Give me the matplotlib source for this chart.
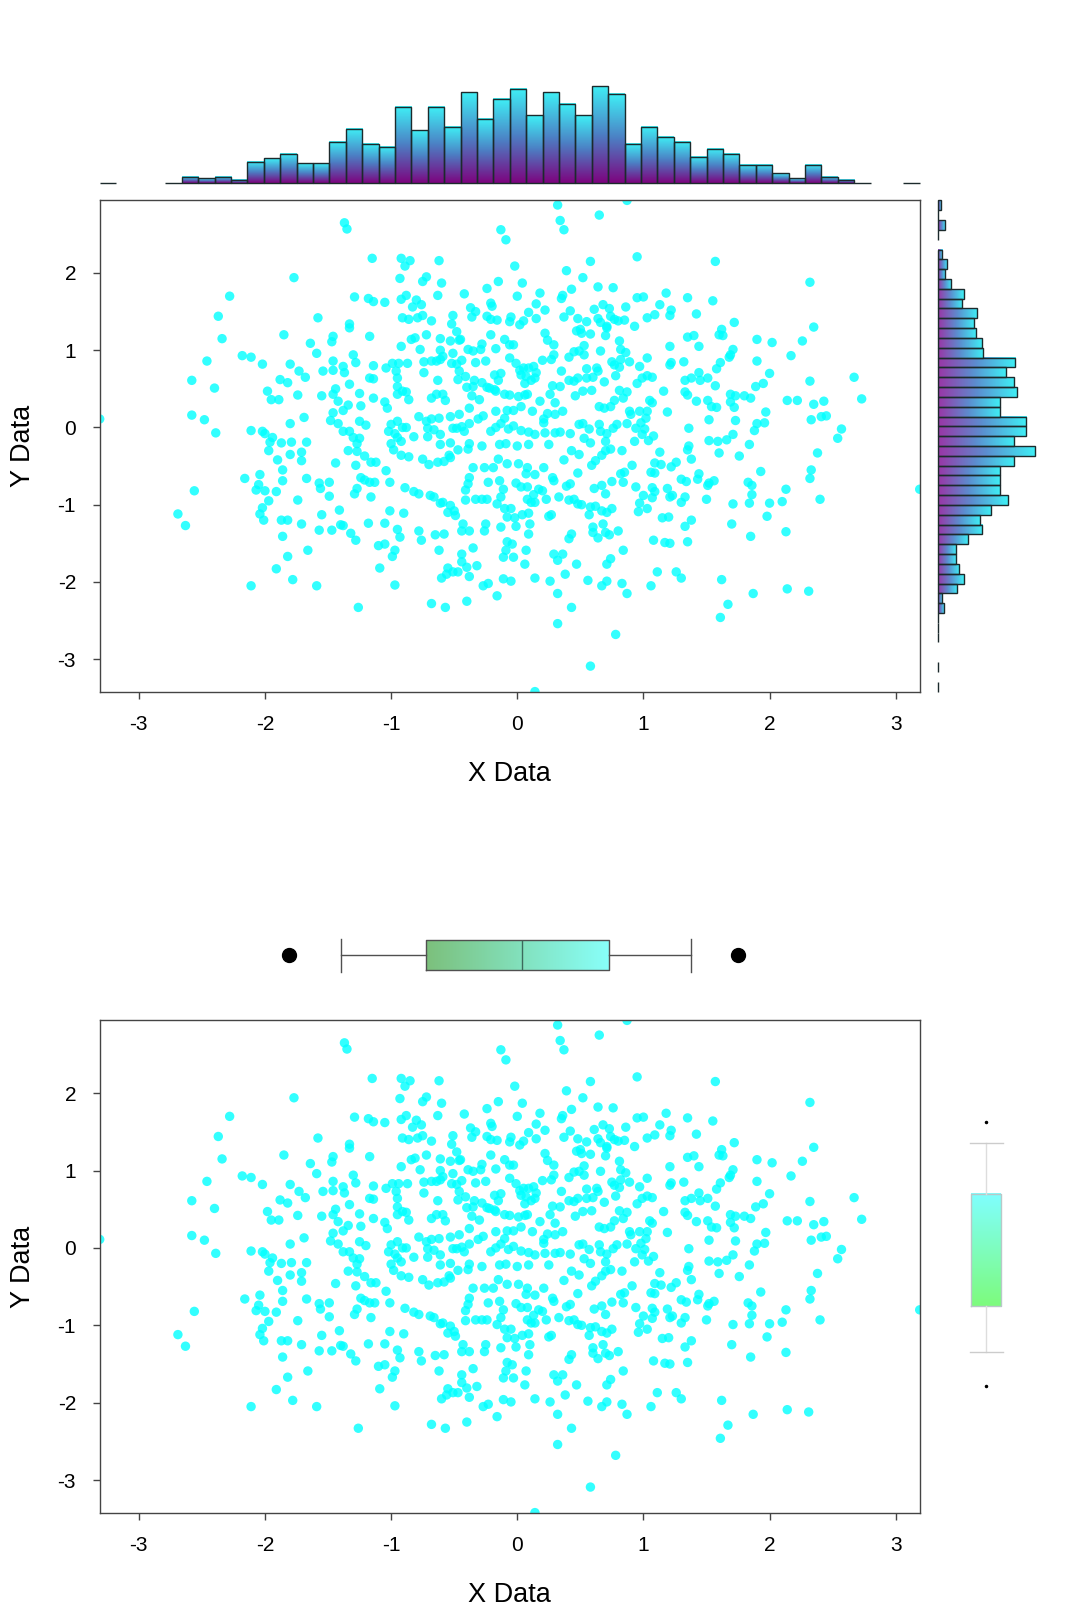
import matplotlib
matplotlib.use("Agg")
import matplotlib.pyplot as plt
import numpy as np
from matplotlib.colors import LinearSegmentedColormap

plt.rcParams["font.family"] = ["Liberation Sans", "DejaVu Sans"]
plt.rcParams["axes.unicode_minus"] = False

FIG_W, FIG_H = 1080, 1612

# scatter points, (x, y)
points = [
    (-1.37, 2.65), (-1.35, 2.57), (-1.15, 2.19), (-1.77, 1.94), (-2.28, 1.70), (-1.29, 1.69), (-1.18, 1.67),
    (-1.14, 1.63), (-2.37, 1.44), (-1.58, 1.42), (-1.33, 1.34), (-1.33, 1.29), (-2.34, 1.15), (-1.85, 1.20),
    (-1.17, 1.18), (-1.46, 1.18), (-1.47, 1.11), (-1.64, 1.09), (-1.59, 0.96), (-2.18, 0.93), (-2.11, 0.91),
    (-1.30, 0.94), (-2.46, 0.86), (-2.02, 0.82), (-1.80, 0.82), (-1.46, 0.86), (-1.38, 0.79), (-1.28, 0.84),
    (-1.14, 0.80), (-1.73, 0.73), (-1.54, 0.73), (-1.37, 0.71), (-1.46, 0.74), (-1.68, 0.65), (-1.88, 0.62),
    (-1.82, 0.58), (-2.58, 0.61), (-1.17, 0.64), (-1.14, 0.63), (-1.33, 0.56), (-2.40, 0.51), (-1.98, 0.47),
    (-1.44, 0.50), (-1.46, 0.43), (-1.25, 0.44), (-1.74, 0.42), (-1.95, 0.36), (-1.89, 0.36), (-1.55, 0.41),
    (-1.42, 0.34), (-1.34, 0.29), (-1.14, 0.38), (-1.24, 0.28), (-1.38, 0.22), (-1.46, 0.19), (-1.69, 0.13),
    (-2.58, 0.16), (-2.48, 0.10), (-1.48, 0.09), (-1.42, 0.05), (-1.80, 0.05), (-1.25, 0.08), (-1.20, 0.03),
    (-3.31, 0.11), (-2.39, -0.07), (-2.11, -0.04), (-2.02, -0.05), (-2.00, -0.08), (-1.38, -0.05), (-1.33, -0.05),
    (-1.30, -0.13), (-1.94, -0.13), (-1.25, -0.14), (-1.27, -0.21), (-1.87, -0.20), (-1.79, -0.19), (-1.67, -0.19),
    (-1.96, -0.19),
    (0.32, 2.88), (0.87, 2.94), (0.65, 2.75), (0.34, 2.68), (0.37, 2.56), (-0.13, 2.56), (-0.09, 2.43),
    (-0.92, 2.19), (-0.89, 2.09), (-0.85, 2.16), (-0.62, 2.16), (-0.02, 2.09), (0.95, 2.21), (0.58, 2.15),
    (0.39, 2.03), (0.52, 1.94), (-0.93, 1.93), (-0.75, 1.89), (-0.72, 1.95), (-0.60, 1.87), (-0.15, 1.89),
    (0.04, 1.87), (0.64, 1.82), (0.76, 1.81), (0.43, 1.79), (0.36, 1.71), (0.35, 1.67), (-0.24, 1.80),
    (-0.42, 1.73), (0.00, 1.70), (0.18, 1.74), (-1.05, 1.62), (-0.92, 1.66), (-0.88, 1.71), (-0.80, 1.65),
    (-0.76, 1.59), (-0.83, 1.56), (-0.63, 1.71), (-0.37, 1.55), (-0.33, 1.50), (-0.21, 1.61), (-0.20, 1.57),
    (0.15, 1.60), (0.22, 1.52), (0.61, 1.53), (0.68, 1.59), (0.73, 1.54), (0.86, 1.56), (1.00, 1.69),
    (0.95, 1.68), (0.42, 1.51), (0.37, 1.43), (0.48, 1.41), (0.55, 1.37), (0.74, 1.44), (0.77, 1.40),
    (0.80, 1.38), (0.85, 1.39), (0.64, 1.41), (0.66, 1.36), (0.71, 1.31), (0.93, 1.31), (1.03, 1.42),
    (-0.91, 1.42), (-0.86, 1.40), (-0.79, 1.42), (-0.75, 1.45), (-0.68, 1.38), (-0.51, 1.45), (-0.52, 1.34),
    (-0.48, 1.24), (-0.36, 1.43), (-0.24, 1.44), (-0.21, 1.40), (-0.16, 1.39), (-0.05, 1.43), (-0.06, 1.37),
    (0.02, 1.33), (0.05, 1.38), (0.09, 1.49), (0.15, 1.41),
    (-0.72, 1.20), (-0.84, 1.14), (-0.81, 1.16), (-0.92, 1.05), (-0.77, 1.01), (-0.61, 1.15), (-0.53, 1.12),
    (-0.46, 1.13), (-0.45, 1.14), (-0.21, 1.20), (-0.10, 1.14), (-0.06, 1.07), (-0.03, 1.07), (0.22, 1.22),
    (0.24, 1.13), (0.29, 1.07), (0.47, 1.25), (0.50, 1.27), (0.51, 1.22), (0.58, 1.21), (0.70, 1.19),
    (0.81, 1.12), (0.71, 1.29), (-0.17, 1.02), (-0.39, 1.01), (-0.35, 0.99), (-0.28, 1.08), (-0.29, 1.01),
    (-0.61, 1.00), (-0.51, 0.96), (-0.44, 0.87), (-0.61, 0.88), (-0.64, 0.86), (-0.68, 0.86), (-0.59, 0.92),
    (0.45, 0.98), (0.49, 0.99), (0.53, 0.94), (0.41, 0.91), (0.53, 1.06), (0.66, 0.99), (0.82, 1.01),
    (0.86, 0.97), (0.89, 0.85), (0.97, 0.79), (1.03, 0.90), (0.75, 0.85), (0.77, 0.81), (0.82, 0.88),
    (0.81, 0.78), (0.63, 0.77), (0.55, 0.76), (0.29, 0.94), (0.27, 0.88), (0.20, 0.87), (-0.06, 0.90),
    (-0.01, 0.83), (0.02, 0.74), (0.05, 0.77), (0.09, 0.77), (0.13, 0.79), (0.15, 0.71), (0.14, 0.64),
    (0.11, 0.61), (0.07, 0.66), (0.06, 0.57), (0.03, 0.68), (-0.13, 0.70), (-0.18, 0.68), (-0.15, 0.61),
    (-0.22, 0.51), (-0.18, 0.49), (-0.24, 0.52), (-0.28, 0.58), (-0.34, 0.61), (-0.35, 0.53), (-0.41, 0.66),
    (-0.46, 0.73), (-0.48, 0.82), (-0.52, 0.83), (-0.47, 0.62), (-0.40, 0.52), (-0.33, 0.84), (-0.25, 0.86),
    (-1.04, 0.77), (-0.99, 0.83), (-0.94, 0.83), (-0.96, 0.73), (-0.95, 0.64), (-0.87, 0.83), (-0.74, 0.85),
    (-0.74, 0.71), (-0.63, 0.61), (-0.95, 0.53), (-0.95, 0.43), (-0.91, 0.47), (-0.88, 0.46), (-0.86, 0.36),
    (-1.05, 0.33), (-1.03, 0.25), (-0.68, 0.38), (-0.64, 0.43), (-0.59, 0.43), (-0.57, 0.35), (-0.36, 0.41),
    (-0.30, 0.36), (-0.17, 0.47), (-0.10, 0.43), (-0.06, 0.42), (0.01, 0.40), (0.06, 0.42), (0.08, 0.43),
    (0.18, 0.34), (0.26, 0.43), (0.30, 0.32), (0.28, 0.54), (0.34, 0.53), (0.35, 0.73), (0.41, 0.61),
    (0.45, 0.60), (0.48, 0.64), (0.55, 0.64), (0.60, 0.65), (0.64, 0.73), (0.69, 0.59), (0.78, 0.67),
    (0.81, 0.48), (0.87, 0.46), (0.95, 0.57), (0.99, 0.64), (1.03, 0.67), (0.84, 0.38), (0.77, 0.35),
    (0.74, 0.27), (0.69, 0.25), (0.65, 0.27), (0.59, 0.48), (0.52, 0.47), (0.46, 0.41), (0.36, 0.21),
    (0.30, 0.17), (0.24, 0.18), (0.21, 0.11), (0.21, 0.06), (0.12, 0.21), (0.03, 0.27), (-0.03, 0.22),
    (-0.08, 0.22), (-0.10, 0.12), (-0.17, 0.21), (-0.27, 0.15), (-0.38, 0.25), (-0.46, 0.17), (-0.53, 0.14),
    (-0.62, 0.12), (-0.68, 0.11), (-0.78, 0.14), (-0.72, 0.08), (-0.71, -0.01), (-0.66, -0.03), (-0.61, -0.09),
    (-0.71, -0.12), (-0.82, -0.12), (-0.91, 0.00), (-0.88, 0.00), (-0.95, 0.08), (-1.00, 0.04), (-1.02, -0.05),
    (-0.97, -0.08), (-0.95, -0.13), (-1.00, -0.21), (-0.92, -0.18), (-0.51, -0.01), (-0.48, -0.01), (-0.44, 0.01),
    (-0.42, -0.05), (-0.38, 0.05), (-0.31, 0.11), (-0.21, -0.05), (-0.17, 0.00), (-0.13, 0.05), (-0.07, -0.02),
    (-0.03, 0.02), (0.03, -0.04), (0.09, -0.06), (0.14, -0.09), (0.22, -0.07), (0.30, -0.07), (0.34, -0.06),
    (0.42, -0.08), (0.49, 0.04), (0.52, 0.05), (0.57, -0.02), (0.65, 0.04), (0.66, -0.05), (0.71, -0.08),
    (0.76, -0.01), (0.79, 0.04), (0.87, 0.05), (0.90, 0.17), (0.89, 0.21), (0.94, -0.01), (0.98, 0.06),
    (1.01, -0.02), (1.02, 0.12), (0.97, 0.21), (-0.61, -0.22), (-0.53, -0.20), (-0.38, -0.21), (-0.28, -0.24),
    (-0.14, -0.22), (-0.09, -0.21), (0.00, -0.24), (0.09, -0.22), (0.25, -0.22), (0.53, -0.14), (0.58, -0.20),
    (0.70, -0.18), (0.93, -0.18), (0.99, -0.09),
    (1.57, 2.15), (2.32, 1.88), (1.18, 1.74), (1.35, 1.68), (1.55, 1.64), (1.13, 1.59), (1.22, 1.52),
    (1.21, 1.45), (1.09, 1.46), (1.42, 1.47), (1.72, 1.36), (2.35, 1.30), (1.62, 1.27), (1.60, 1.20),
    (1.63, 1.19), (1.35, 1.17), (1.40, 1.19), (1.90, 1.14), (2.02, 1.10), (2.26, 1.12), (1.21, 1.05),
    (1.44, 1.05), (1.32, 0.85), (1.22, 0.84), (1.21, 0.81), (1.61, 0.84), (1.58, 0.76), (1.71, 1.01),
    (1.69, 0.94), (1.68, 0.91), (1.90, 0.86), (2.17, 0.93), (2.00, 0.70), (2.32, 0.60), (2.67, 0.65),
    (2.73, 0.37), (1.07, 0.65), (1.16, 0.47), (1.33, 0.61), (1.38, 0.64), (1.44, 0.71), (1.45, 0.61),
    (1.51, 0.64), (1.33, 0.46), (1.35, 0.42), (1.42, 0.34), (1.51, 0.35), (1.57, 0.54), (1.69, 0.43),
    (1.69, 0.33), (1.73, 0.41), (1.80, 0.41), (1.85, 0.38), (1.72, 0.26), (1.54, 0.27), (1.58, 0.26),
    (1.95, 0.57), (1.89, 0.53), (2.14, 0.35), (2.22, 0.35), (2.43, 0.34), (2.35, 0.30), (2.41, 0.14),
    (2.45, 0.15), (2.33, 0.10), (1.97, 0.20), (1.96, 0.06), (1.90, 0.05), (1.88, -0.04), (1.73, 0.09),
    (1.52, 0.10), (1.36, -0.01), (1.71, -0.09), (1.66, -0.16), (1.59, -0.18), (1.52, -0.17), (2.57, -0.02),
    (2.54, -0.14), (1.19, 0.20), (1.05, 0.35), (1.07, 0.32), (1.03, 0.21), (1.08, -0.11), (1.04, -0.17),
    (1.36, -0.24), (1.84, -0.22),
    (-1.97, -0.30), (-1.80, -0.35), (-1.71, -0.32), (-1.71, -0.43), (-1.90, -0.42), (-1.86, -0.55), (-1.34, -0.30),
    (-1.27, -0.31), (-1.21, -0.37), (-1.28, -0.49), (-1.16, -0.45), (-1.44, -0.46), (-2.16, -0.66), (-2.04, -0.61),
    (-1.67, -0.66), (-1.86, -0.69), (-2.05, -0.74), (-2.07, -0.81), (-2.00, -0.82), (-1.91, -0.83), (-1.57, -0.72),
    (-1.56, -0.79), (-1.49, -0.71), (-1.49, -0.89), (-1.24, -0.65), (-1.21, -0.68), (-1.17, -0.71), (-1.27, -0.79),
    (-1.29, -0.86), (-1.16, -0.90), (-2.56, -0.82), (-1.74, -0.94), (-1.97, -0.95), (-2.02, -1.04), (-2.04, -1.12),
    (-2.01, -1.20), (-1.87, -1.20), (-1.82, -1.20), (-1.71, -1.25), (-1.55, -1.13), (-1.41, -1.07), (-1.40, -1.26),
    (-1.38, -1.27), (-1.57, -1.33), (-1.47, -1.33), (-1.32, -1.37), (-1.28, -1.46), (-1.18, -1.24), (-1.86, -1.41),
    (-2.69, -1.12), (-2.63, -1.27), (-1.66, -1.59), (-1.82, -1.67), (-1.91, -1.83), (-1.78, -1.97), (-2.11, -2.05),
    (-1.59, -2.05), (-1.26, -2.33),
    (-0.98, -0.29), (-1.12, -0.45), (-1.04, -0.56), (-1.01, -0.71), (-1.13, -0.71), (-0.92, -0.36), (-0.86, -0.38),
    (-0.75, -0.41), (-0.70, -0.48), (-0.63, -0.45), (-0.54, -0.36), (-0.47, -0.29), (-0.39, -0.28), (-0.58, -0.44),
    (-0.53, -0.39), (-0.35, -0.52), (-0.26, -0.52), (-0.19, -0.52), (-0.23, -0.71), (-0.38, -0.65), (-0.39, -0.73),
    (-0.41, -0.81), (-0.33, -0.93), (-0.28, -0.93), (-0.24, -0.93), (-0.41, -0.94), (-0.14, -0.69), (-0.11, -0.80),
    (-0.08, -0.47), (-0.15, -0.41), (0.01, -0.47), (0.08, -0.52), (0.14, -0.61), (0.07, -0.60), (-0.01, -0.72),
    (0.03, -0.77), (0.08, -0.77), (0.13, -0.87), (0.17, -0.80), (0.14, -0.97), (0.08, -0.93), (0.11, -0.97),
    (0.21, -0.52), (0.28, -0.65), (0.29, -0.69), (0.37, -0.42), (0.43, -0.30), (0.49, -0.35), (0.59, -0.49),
    (0.62, -0.43), (0.67, -0.36), (0.70, -0.30), (0.74, -0.28), (0.83, -0.30), (0.91, -0.49), (0.85, -0.58),
    (0.82, -0.60), (0.48, -0.59), (0.39, -0.76), (0.42, -0.73), (0.45, -0.93), (0.41, -0.94), (0.48, -0.99),
    (0.51, -1.00), (0.58, -1.03), (0.62, -1.02), (0.61, -0.79), (0.67, -0.75), (0.70, -0.86), (0.75, -0.70),
    (0.84, -0.71), (0.94, -0.77), (1.00, -0.88), (0.97, -0.98), (0.96, -1.09), (1.03, -1.05), (0.75, -1.05),
    (0.71, -1.10), (0.67, -1.08), (0.57, -1.13), (0.27, -1.13), (0.25, -1.15), (0.33, -0.90), (0.23, -0.93),
    (0.20, -0.82), (-0.13, -0.90), (-0.16, -0.99), (-0.10, -1.05), (-0.05, -1.05), (-0.08, -1.16), (-0.02, -1.17),
    (0.04, -1.13), (0.09, -1.11), (0.10, -1.25), (0.09, -1.38), (-0.01, -1.28), (-0.13, -1.29), (-0.25, -1.25),
    (-0.26, -1.34), (-0.38, -1.34), (-0.44, -1.34), (-0.43, -1.25), (-0.49, -1.14), (-0.50, -1.08), (-0.55, -1.10),
    (-0.53, -1.01), (-0.61, -0.98), (-0.66, -0.90), (-0.59, -0.97), (-0.69, -0.88), (-0.78, -0.86), (-0.82, -0.83),
    (-0.89, -0.78), (-1.01, -1.08), (-1.05, -1.24), (-0.90, -1.11), (-0.78, -1.34), (-0.76, -1.46), (-0.95, -1.32),
    (-0.93, -1.42), (-1.10, -1.53), (-1.05, -1.51), (-0.97, -1.59), (-0.99, -1.67), (-1.09, -1.82), (-0.97, -2.04),
    (-0.65, -1.39), (-0.58, -1.38), (-0.62, -1.59), (-0.44, -1.64), (-0.35, -1.56), (-0.44, -1.74), (-0.55, -1.82),
    (-0.40, -1.81), (-0.32, -1.79), (-0.47, -1.87), (-0.51, -1.87), (-0.56, -1.90), (-0.60, -1.95), (-0.38, -1.93),
    (-0.27, -2.05), (-0.23, -2.02), (-0.16, -2.18), (-0.11, -1.96), (-0.05, -1.99), (-0.11, -1.68), (-0.03, -1.68),
    (-0.09, -1.59), (-0.04, -1.51), (-0.08, -1.48), (0.07, -1.59), (0.06, -1.77), (0.14, -1.95), (0.26, -1.99),
    (0.29, -1.64), (0.32, -1.72), (0.36, -1.64), (0.38, -1.90), (0.32, -2.15), (0.43, -2.33), (0.32, -2.54),
    (0.47, -1.77), (0.56, -1.98), (0.67, -2.05), (0.71, -1.99), (0.71, -1.77), (0.74, -1.70), (0.84, -1.59),
    (0.87, -2.15), (0.83, -2.02), (0.80, -1.34), (0.60, -1.36), (0.64, -1.43), (0.70, -1.36), (0.73, -1.39),
    (0.60, -1.29), (0.68, -1.25), (0.43, -1.38), (0.41, -1.44), (-0.68, -2.28), (-0.57, -2.33), (-0.40, -2.25),
    (0.78, -2.68), (0.58, -3.09), (0.14, -3.42),
    (1.13, -0.32), (1.35, -0.29), (1.38, -0.41), (1.60, -0.33), (1.76, -0.37), (2.38, -0.33), (1.09, -0.46),
    (1.14, -0.48), (1.22, -0.51), (1.26, -0.45), (1.06, -0.58), (1.09, -0.59), (1.30, -0.67), (1.34, -0.70),
    (1.44, -0.60), (1.43, -0.67), (1.52, -0.72), (1.56, -0.69), (1.51, -0.75), (1.93, -0.57), (2.33, -0.55),
    (2.32, -0.66), (1.83, -0.71), (1.86, -0.75), (1.86, -0.87), (1.84, -0.98), (1.71, -0.99), (2.00, -0.98),
    (2.10, -0.96), (2.13, -0.80), (2.40, -0.93), (1.07, -0.78), (1.09, -0.83), (1.19, -0.79), (1.21, -0.90),
    (1.23, -0.88), (1.30, -0.97), (1.33, -0.90), (1.50, -0.93), (1.07, -0.91), (1.15, -1.17), (1.20, -1.16),
    (1.33, -1.28), (1.38, -1.20), (1.70, -1.25), (1.98, -1.15), (1.85, -1.41), (2.13, -1.35), (1.08, -1.46),
    (1.17, -1.49), (1.21, -1.50), (1.35, -1.48), (1.11, -1.87), (1.26, -1.87), (1.30, -1.95), (1.06, -2.05),
    (1.62, -1.97), (1.87, -2.15), (2.14, -2.09), (2.31, -2.12), (1.67, -2.29), (1.61, -2.46), (3.19, -0.80),
]

# marginal histogram counts, 50 equal bins over the data range
x_hist_counts = [1, 0, 0, 0, 1, 5, 4, 5, 3, 14,
                 16, 19, 13, 13, 26, 34, 25, 23, 47, 33,
                 47, 35, 56, 40, 52, 58, 42, 56, 49, 42,
                 60, 55, 25, 35, 29, 26, 17, 22, 19, 12,
                 12, 7, 4, 12, 5, 3, 1, 0, 0, 1]
# bottom -> top
y_hist_counts = [1, 0, 1, 0, 0, 1, 1, 1, 5, 4,
                 14, 18, 15, 13, 13, 21, 30, 29, 36, 47,
                 42, 42, 42, 51, 65, 51, 59, 59, 42, 42,
                 53, 51, 46, 52, 31, 30, 26, 25, 27, 17,
                 18, 10, 6, 7, 4, 0, 1, 6, 1, 3]

x_box = {"whislo": -1.40, "q1": -0.72, "med": 0.04, "q3": 0.73, "whishi": 1.38, "fliers": [-1.81, 1.75]}
y_box = {"whislo": -1.35, "q1": -0.75, "med": -0.03, "q3": 0.70, "whishi": 1.35, "fliers": [-1.78, 1.63]}

x = np.array([p[0] for p in points])
y = np.array([p[1] for p in points])
XLIM = (x.min(), x.max())
YLIM = (y.min(), y.max())

HIST_CMAP = LinearSegmentedColormap.from_list("hist", ["#7d047f", "#4c7fc4", "#3ff0f6"])
RHIST_CMAP = LinearSegmentedColormap.from_list("rhist", ["#9a36a6", "#5b8fd0", "#3ff0f6"])
XBOX_CMAP = LinearSegmentedColormap.from_list("xbox", ["#7cc07c", "#88fff9"])
YBOX_CMAP = LinearSegmentedColormap.from_list("ybox", ["#7dfb7d", "#80ffff"])
EDGE = "#1c2a2c"


def rect(l, t, r, b):
    return [l / FIG_W, 1 - b / FIG_H, (r - l) / FIG_W, (b - t) / FIG_H]


def scatter_panel(fig, box):
    ax = fig.add_axes(box)
    ax.scatter(x, y, s=46, color="#00ffff", alpha=0.8, edgecolors="none")
    ax.set_xlim(XLIM)
    ax.set_ylim(YLIM)
    ax.set_xticks(range(-3, 4))
    ax.set_yticks(range(-3, 3))
    ax.tick_params(axis="both", direction="out", length=5, width=1, color="#444444", labelsize=15)
    ax.tick_params(axis="x", pad=12)
    ax.tick_params(axis="y", pad=12)
    for s in ax.spines.values():
        s.set_color("#444444")
        s.set_linewidth(1)
    ax.set_xlabel("X Data", fontsize=19.5)
    ax.xaxis.set_label_coords(0.5, -0.168)
    ax.xaxis.label.set_va("center")
    ax.set_ylabel("Y Data", fontsize=19.5)
    ax.yaxis.set_label_coords(-0.094, 0.5)
    ax.yaxis.label.set_va("center")
    return ax


def top_hist(fig, box):
    ax = fig.add_axes(box)
    counts = np.array(x_hist_counts, dtype=float)
    edges = np.linspace(XLIM[0], XLIM[1], len(counts) + 1)
    bw = edges[1] - edges[0]
    grad = np.linspace(0, 1, 128).reshape(-1, 1)
    for x0, c in zip(edges[:-1], counts):
        if c > 1:
            ax.imshow(grad, cmap=HIST_CMAP, origin="lower", aspect="auto",
                      extent=(x0, x0 + bw, 1, c), interpolation="bilinear")
    m = counts > 0
    ax.bar(edges[:-1][m], counts[m] - 1, bottom=1, width=bw, align="edge",
           facecolor="none", edgecolor=EDGE, linewidth=1, clip_on=False)
    ax.set_xlim(XLIM)
    ax.set_ylim(1, counts.max())
    ax.axis("off")


def right_hist(fig, box):
    ax = fig.add_axes(box)
    counts = np.array(y_hist_counts, dtype=float)
    edges = np.linspace(YLIM[0], YLIM[1], len(counts) + 1)
    bh = edges[1] - edges[0]
    grad = np.linspace(0, 1, 128).reshape(1, -1)
    for y0, c in zip(edges[:-1], counts):
        if c > 1:
            ax.imshow(grad, cmap=RHIST_CMAP, origin="lower", aspect="auto",
                      extent=(1, c, y0, y0 + bh), interpolation="bilinear")
    m = counts > 0
    ax.barh(edges[:-1][m], counts[m] - 1, left=1, height=bh, align="edge",
            facecolor="none", edgecolor=EDGE, linewidth=1, clip_on=False)
    ax.set_ylim(YLIM)
    ax.set_xlim(1, counts.max())
    ax.axis("off")


def top_box(fig, box):
    ax = fig.add_axes(box)
    grad = np.linspace(0, 1, 128).reshape(1, -1)
    ax.imshow(grad, cmap=XBOX_CMAP, aspect="auto", extent=(x_box["q1"], x_box["q3"], -0.75, 0.75),
              interpolation="bilinear", zorder=1)
    ax.bxp([x_box], positions=[0], vert=False, widths=1.5, showfliers=True, capwidths=1.65,
           boxprops=dict(color="#505050", linewidth=1),
           whiskerprops=dict(color="#505050", linewidth=1),
           capprops=dict(color="#505050", linewidth=1),
           medianprops=dict(color="#3c6a5c", linewidth=1),
           flierprops=dict(marker="o", markerfacecolor="black", markeredgecolor="black", markersize=10))
    ax.set_xlim(XLIM)
    ax.set_ylim(-1, 1)
    ax.axis("off")


def right_box(fig, box):
    ax = fig.add_axes(box)
    grad = np.linspace(0, 1, 128).reshape(-1, 1)
    ax.imshow(grad, cmap=YBOX_CMAP, origin="lower", aspect="auto",
              extent=(-0.5, 0.5, y_box["q1"], y_box["q3"]), interpolation="bilinear", zorder=1)
    ax.bxp([y_box], positions=[0], widths=1.0, showfliers=True, capwidths=1.1,
           boxprops=dict(color="#b8c8c8", linewidth=1),
           whiskerprops=dict(color="#dddddd", linewidth=1),
           capprops=dict(color="#cccccc", linewidth=1),
           medianprops=dict(visible=False),
           flierprops=dict(marker="o", markerfacecolor="black", markeredgecolor="black", markersize=1.5))
    ax.set_ylim(YLIM)
    ax.set_xlim(-1, 1)
    ax.axis("off")


def main():
    fig = plt.figure(figsize=(FIG_W / 100, FIG_H / 100), dpi=100)

    scatter_panel(fig, rect(99.7, 200.4, 919.7, 691.6))
    top_hist(fig, rect(99.7, 85.7, 919.7, 183.3))
    right_hist(fig, rect(937.7, 200.4, 1035, 691.6))

    scatter_panel(fig, rect(99.7, 1020.4, 919.7, 1512.6))
    top_box(fig, rect(99.7, 935, 919.7, 975))
    right_box(fig, rect(956, 1020.4, 1016, 1512.6))

    fig.savefig("out.png", dpi=100, facecolor="white")
    plt.close(fig)


if __name__ == "__main__":
    main()
